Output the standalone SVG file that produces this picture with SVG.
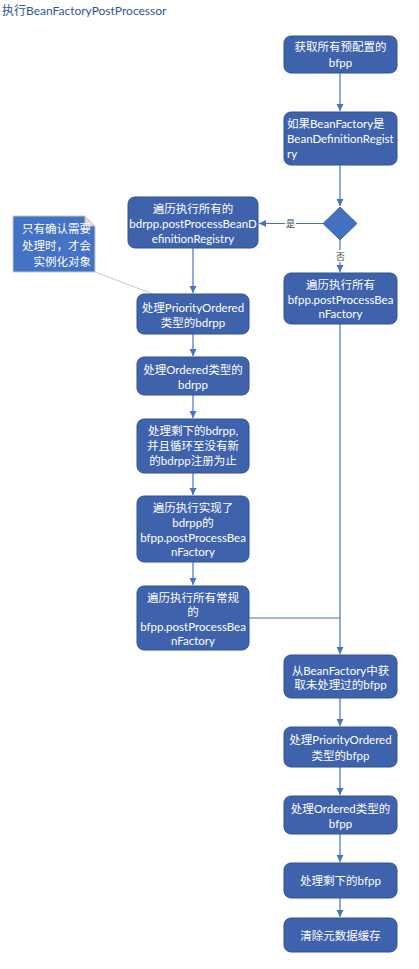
<svg xmlns="http://www.w3.org/2000/svg" width="419" height="969" viewBox="0 0 419 969">
<style>
.box{fill:#3F62AD;stroke:#2F528F;stroke-width:1}
.t{font-family:Lato,"Noto Sans CJK SC",sans-serif;font-size:11.5px;fill:#fff;text-anchor:middle;dominant-baseline:central}
.tl{text-anchor:start}
.c{stroke:#4472C4;stroke-width:1.2;fill:none}
.lbl{font-family:"Noto Sans CJK SC",sans-serif;font-size:9px;fill:#404040;text-anchor:middle;dominant-baseline:central}
</style>
<defs>
<marker id="ah" markerWidth="8" markerHeight="8" refX="7" refY="4" orient="auto" markerUnits="userSpaceOnUse">
<path d="M0,0.5 L7,4 L0,7.5 Z" fill="#4472C4"/>
</marker>
</defs>
<rect width="419" height="969" fill="#fff"/>
<text x="2" y="10" style="font-family:Lato,'Noto Sans CJK SC',sans-serif;font-size:12px;fill:#2F5597;dominant-baseline:central">执行BeanFactoryPostProcessor</text>

<g id="connectors">
<path class="c" d="M340,73 V111" marker-end="url(#ah)"/>
<path class="c" d="M340,165 V206" marker-end="url(#ah)"/>
<path class="c" d="M323,223.5 H259" marker-end="url(#ah)"/>
<path class="c" d="M340,240 V272" marker-end="url(#ah)"/>
<path class="c" d="M193,248 V293" marker-end="url(#ah)"/>
<path class="c" d="M193,334 V356" marker-end="url(#ah)"/>
<path class="c" d="M193,395 V418" marker-end="url(#ah)"/>
<path class="c" d="M193,473 V495" marker-end="url(#ah)"/>
<path class="c" d="M193,562 V585" marker-end="url(#ah)"/>
<path class="c" d="M340,324 V654" marker-end="url(#ah)"/>
<path class="c" d="M249,618 H340"/>
<path class="c" d="M340,698 V726" marker-end="url(#ah)"/>
<path class="c" d="M340,767 V795" marker-end="url(#ah)"/>
<path class="c" d="M340,834 V862" marker-end="url(#ah)"/>
<path class="c" d="M340,898 V917" marker-end="url(#ah)"/>
<rect x="285" y="218" width="11" height="11" fill="#fff"/>
<text class="lbl" x="290.5" y="223.5">是</text>
<rect x="335" y="250" width="11" height="12" fill="#fff"/>
<text class="lbl" x="340.5" y="256">否</text>
<path d="M95,272 L153,294" stroke="#C8C8C8" stroke-width="1" fill="none"/>
</g>

<g id="n1"><rect class="box" x="284" y="36" width="113" height="37" rx="7"/>
<text class="t" x="340.5" y="46">获取所有预配置的</text><text class="t" x="340.5" y="62">bfpp</text></g>

<g id="n2"><rect class="box" x="284" y="112" width="113" height="53" rx="7"/>
<text class="t tl" x="287" y="123">如果BeanFactory是</text><text class="t tl" x="287" y="138">BeanDefinitionRegist</text><text class="t tl" x="287" y="153">ry</text></g>

<g id="decision"><path d="M340,207 L357,223.5 L340,240 L323,223.5 Z" fill="#4470C0" stroke="#2F528F" stroke-width="0.8"/></g>

<g id="n3"><rect class="box" x="128" y="197" width="130" height="51" rx="7"/>
<text class="t" x="193" y="208">遍历执行所有的</text><text class="t" x="193" y="223">bdrpp.postProcessBeanD</text><text class="t" x="193" y="238">efinitionRegistry</text></g>

<g id="n4"><rect class="box" x="284" y="273" width="113" height="51" rx="7"/>
<text class="t" x="340.5" y="284">遍历执行所有</text><text class="t" x="340.5" y="299">bfpp.postProcessBea</text><text class="t" x="340.5" y="313">nFactory</text></g>

<g id="note">
<path d="M13,216 H85 L95,226 V272 H13 Z" fill="#4472C4" stroke="#C8C8C8" stroke-width="1"/>
<path d="M85,216 L85,226 L95,226 Z" fill="#DADADA" stroke="#C8C8C8" stroke-width="0.8"/>
<text class="t" style="text-anchor:end" x="91" y="228">只有确认需要</text>
<text class="t" style="text-anchor:end" x="91" y="245">处理时，才会</text>
<text class="t" style="text-anchor:end" x="91" y="261">实例化对象</text>
</g>

<g id="n5"><rect class="box" x="137" y="294" width="112" height="40" rx="7"/>
<text class="t" x="193" y="307">处理PriorityOrdered</text><text class="t" x="193" y="322">类型的bdrpp</text></g>

<g id="n6"><rect class="box" x="137" y="357" width="112" height="38" rx="7"/>
<text class="t" x="193" y="369">处理Ordered类型的</text><text class="t" x="193" y="384">bdrpp</text></g>

<g id="n7"><rect class="box" x="137" y="419" width="112" height="54" rx="7"/>
<text class="t" x="193" y="430">处理剩下的bdrpp,</text><text class="t" x="193" y="445">并且循环至没有新</text><text class="t" x="193" y="460">的bdrpp注册为止</text></g>

<g id="n8"><rect class="box" x="137" y="496" width="112" height="66" rx="7"/>
<text class="t" x="193" y="507">遍历执行实现了</text><text class="t" x="193" y="522">bdrpp的</text><text class="t" x="193" y="537">bfpp.postProcessBea</text><text class="t" x="193" y="551">nFactory</text></g>

<g id="n9"><rect class="box" x="137" y="586" width="112" height="64" rx="7"/>
<text class="t" x="193" y="597">遍历执行所有常规</text><text class="t" x="193" y="611">的</text><text class="t" x="193" y="626">bfpp.postProcessBea</text><text class="t" x="193" y="640">nFactory</text></g>

<g id="n10"><rect class="box" x="284" y="655" width="113" height="43" rx="7"/>
<text class="t" x="340.5" y="670">从BeanFactory中获</text><text class="t" x="340.5" y="684">取未处理过的bfpp</text></g>

<g id="n11"><rect class="box" x="284" y="727" width="113" height="40" rx="7"/>
<text class="t" x="340.5" y="739">处理PriorityOrdered</text><text class="t" x="340.5" y="755">类型的bfpp</text></g>

<g id="n12"><rect class="box" x="284" y="796" width="113" height="38" rx="7"/>
<text class="t" x="340.5" y="808">处理Ordered类型的</text><text class="t" x="340.5" y="823">bfpp</text></g>

<g id="n13"><rect class="box" x="284" y="863" width="113" height="35" rx="7"/>
<text class="t" x="340.5" y="880">处理剩下的bfpp</text></g>

<g id="n14"><rect class="box" x="284" y="918" width="113" height="34" rx="7"/>
<text class="t" x="340.5" y="935">清除元数据缓存</text></g>
</svg>
